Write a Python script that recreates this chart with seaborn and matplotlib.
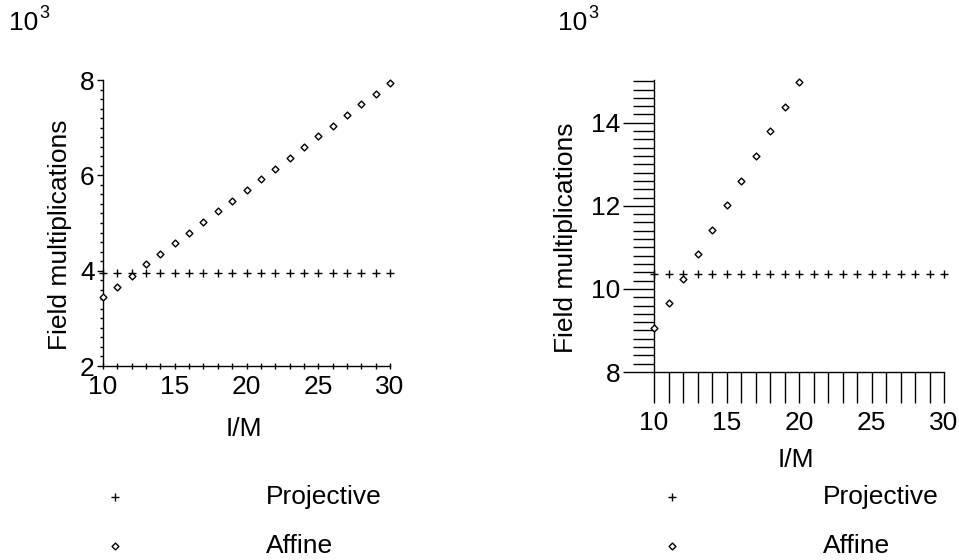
import matplotlib
matplotlib.use("Agg")
import matplotlib.pyplot as plt
import seaborn as sns
import pandas as pd
from matplotlib.ticker import MultipleLocator

sns.set_theme(style="white")
plt.rcParams['font.family'] = ['Liberation Sans', 'DejaVu Sans']
plt.rcParams['text.color'] = 'black'

# ---- data (values in thousands) ----
x_left = [10, 11, 12, 13, 14, 15, 16, 17, 18, 19, 20, 21, 22, 23, 24, 25, 26, 27, 28, 29, 30]
proj_left = [3.95, 3.95, 3.95, 3.95, 3.95, 3.95, 3.95, 3.95, 3.95, 3.95, 3.95,
             3.95, 3.95, 3.95, 3.95, 3.95, 3.95, 3.95, 3.95, 3.95, 3.95]
aff_left = [3.44, 3.66, 3.89, 4.13, 4.35, 4.57, 4.80, 5.02, 5.25, 5.47, 5.69,
            5.92, 6.14, 6.37, 6.59, 6.82, 7.04, 7.27, 7.49, 7.71, 7.94]

x_right_proj = [10, 11, 12, 13, 14, 15, 16, 17, 18, 19, 20, 21, 22, 23, 24, 25, 26, 27, 28, 29, 30]
proj_right = [10.37, 10.37, 10.37, 10.37, 10.37, 10.37, 10.37, 10.37, 10.37, 10.37, 10.37,
              10.37, 10.37, 10.37, 10.37, 10.37, 10.37, 10.37, 10.37, 10.37, 10.37]
x_right_aff = [10, 11, 12, 13, 14, 15, 16, 17, 18, 19, 20]
aff_right = [9.06, 9.65, 10.24, 10.84, 11.43, 12.02, 12.61, 13.20, 13.80, 14.39, 14.98]

left_yticks = [2, 4, 6, 8]
right_yticks = [8, 10, 12, 14]
xticks = [10, 15, 20, 25, 30]
series_names = ["Projective", "Affine"]
xlabel = "I/M"
ylabel = "Field multiplications"
scale_text = "10"
scale_exp = "3"

FS = 19
W, H = 959, 560
fig = plt.figure(figsize=(W / 100, H / 100), dpi=100)

axL = fig.add_axes([103 / W, (H - 366) / H, 287 / W, 286 / H])
axR = fig.add_axes([654 / W, (H - 372) / H, 290 / W, 292 / H])


def draw(ax, xp, yp, xa, ya):
    sns.scatterplot(x=xp, y=yp, ax=ax, marker='+', color='black', s=30,
                    linewidth=1.0, label=series_names[0], zorder=3, clip_on=False)
    sns.scatterplot(x=xa, y=ya, ax=ax, marker='D', facecolor='white',
                    edgecolor='black', s=12, linewidth=1.0,
                    label=series_names[1], zorder=3, clip_on=False)
    for s in ['top', 'right']:
        ax.spines[s].set_visible(False)
    for s in ['left', 'bottom']:
        ax.spines[s].set_color('black')
        ax.spines[s].set_linewidth(1.0)
    ax.set_xlim(10, 30)
    ax.set_xticks(xticks)
    ax.set_xticklabels([str(v) for v in xticks], fontsize=FS)
    ax.xaxis.set_minor_locator(MultipleLocator(1))
    ax.yaxis.set_minor_locator(MultipleLocator(0.2))


draw(axL, x_left, proj_left, x_left, aff_left)
draw(axR, x_right_proj, proj_right, x_right_aff, aff_right)

# Left axes styling
axL.set_ylim(2, 8)
axL.set_yticks(left_yticks)
axL.set_yticklabels([str(v) for v in left_yticks], fontsize=FS)
axL.tick_params(axis='y', which='major', direction='out', length=4, width=1, color='black', pad=2)
axL.tick_params(axis='y', which='minor', direction='out', length=2, width=1, color='black')
axL.tick_params(axis='x', which='both', direction='inout', length=5, width=1, color='black', pad=4)
axL.tick_params(left=True, bottom=True, which='both')
axL.set_xlabel(xlabel, fontsize=FS)
axL.set_ylabel(ylabel, fontsize=FS)
axL.xaxis.label.set_va('center')
axL.yaxis.label.set_va('center')
axL.xaxis.set_label_coords(0.49, -0.222)
axL.yaxis.set_label_coords(-0.150, 0.458)

# Right axes styling
axR.set_ylim(8, 15.03)
axR.set_yticks(right_yticks)
axR.set_yticklabels([str(v) for v in right_yticks], fontsize=FS)
axR.xaxis.set_minor_locator(MultipleLocator(1))
axR.tick_params(axis='y', which='major', direction='out', length=22, width=1, color='black', pad=2)
axR.tick_params(axis='y', which='minor', direction='out', length=15, width=1, color='black')
axR.tick_params(axis='x', which='both', direction='out', length=22, width=1, color='black', pad=6)
axR.tick_params(left=True, bottom=True, which='both')
axR.set_xlabel(xlabel, fontsize=FS)
axR.set_ylabel(ylabel, fontsize=FS)
axR.xaxis.label.set_va('center')
axR.yaxis.label.set_va('center')
axR.xaxis.set_label_coords(0.49, -0.301)
axR.yaxis.set_label_coords(-0.305, 0.459)

for ax in (axL, axR):
    for lab in ax.get_xticklabels() + ax.get_yticklabels():
        lab.set_color('black')
    ax.xaxis.label.set_color('black')
    ax.yaxis.label.set_color('black')

# 10^3 scale annotations
fig.text(9 / W, 1 - 23 / H, scale_text, fontsize=FS, va='center', ha='left', color='black')
fig.text(39 / W, 1 - 13 / H, scale_exp, fontsize=13, va='center', ha='left', color='black')
fig.text(558 / W, 1 - 23 / H, scale_text, fontsize=FS, va='center', ha='left', color='black')
fig.text(588 / W, 1 - 13 / H, scale_exp, fontsize=13, va='center', ha='left', color='black')

# Legends below each panel
for ax, x0 in ((axL, 102), (axR, 659)):
    h, l = ax.get_legend_handles_labels()
    leg = ax.legend(h, l, loc='upper left', bbox_to_anchor=(x0 / W, 1 - 485 / H),
                    bbox_transform=fig.transFigure, frameon=False, fontsize=FS,
                    handlelength=1.0, handletextpad=5.2, labelspacing=0.96,
                    borderpad=0, borderaxespad=0)
    for t in leg.get_texts():
        t.set_color('black')

fig.savefig("out.png", dpi=100, facecolor='white')
